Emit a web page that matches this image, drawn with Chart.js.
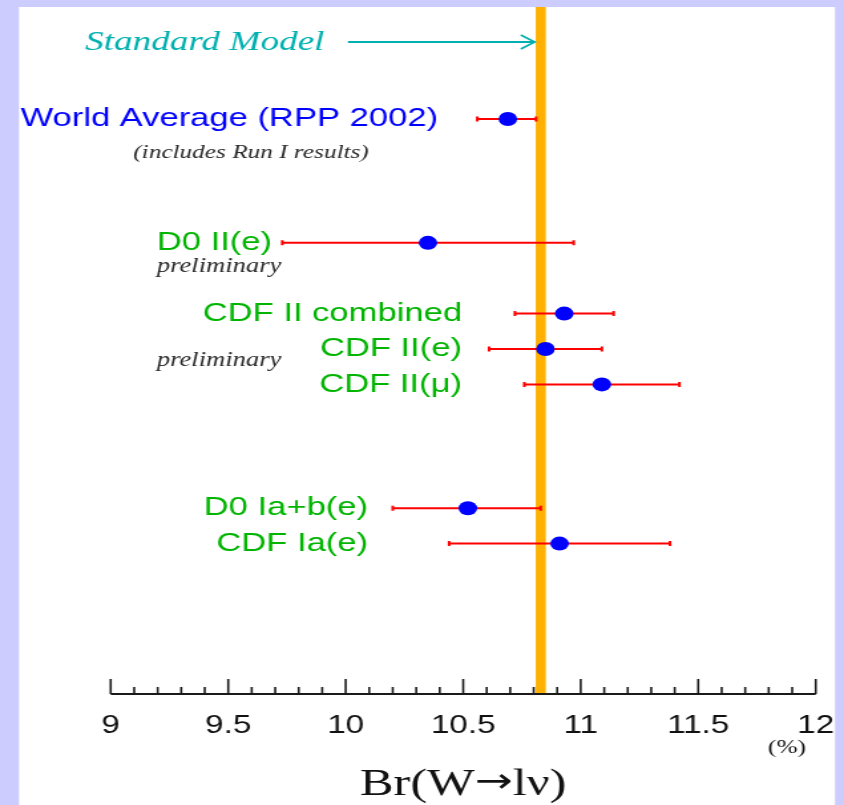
<!DOCTYPE html>
<html><head><meta charset="utf-8">
<script src="https://cdn.jsdelivr.net/npm/chart.js@4.4.1/dist/chart.umd.min.js"></script>
<style>
html,body{margin:0;padding:0;background:#ccccff;overflow:hidden;width:844px;height:805px;}
#wrap{position:absolute;left:0;top:0;width:635px;height:805px;transform:scaleX(1.329134);transform-origin:0 0;}
canvas{display:block;}
</style></head><body>
<div id="wrap"><canvas id="c" width="635" height="805"></canvas></div>
<script>
// ---- data ----
const categories = [
  '', '', '', '',
  'World Average (RPP 2002)',
  '', '', '', '', '', '',
  'D0 II(e)',
  '', '', '',
  'CDF II combined',
  '',
  'CDF II(e)',
  '',
  'CDF II(\u03bc)',
  '', '', '', '', '', '',
  'D0 Ia+b(e)',
  '',
  'CDF Ia(e)',
  '', '', '', '', '', '', '', ''
];
const measurements = ['World Average (RPP 2002)', 'D0 II(e)', 'CDF II combined', 'CDF II(e)', 'CDF II(\u03bc)', 'D0 Ia+b(e)', 'CDF Ia(e)'];
const centralValues = [10.69, 10.35, 10.93, 10.85, 11.09, 10.52, 10.91];
const lowerEdges    = [10.56,  9.73, 10.72, 10.61, 10.76, 10.20, 10.44];
const upperEdges    = [10.81, 10.97, 11.14, 11.09, 11.42, 10.83, 11.38];
const standardModel = 10.83;
const xTickLabels = ['9', '9.5', '10', '10.5', '11', '11.5', '12'];

// ---- layout / style helpers ----
const S = 844 / 635;          // horizontal stretch of the original picture
const X = p => p / S;         // page x -> canvas x
const SANS = '"Liberation Sans", Arial, sans-serif';
const SERIF = '"Liberation Serif", "Times New Roman", serif';
const GREEN = '#00b400';

const rowLabelStyle = [
  {color: '#0000ff', right: 438},
  {color: GREEN, right: 272},
  {color: GREEN, right: 462},
  {color: GREEN, right: 462},
  {color: GREEN, right: 462},
  {color: GREEN, right: 368},
  {color: GREEN, right: 368}
];
const notes = [
  {text: '(includes Run I results)', row: 0, dy: 34, cx: 251, font: 'italic 19px ' + SERIF},
  {text: 'preliminary', row: 1, dy: 24, cx: 219, font: 'italic 20px ' + SERIF},
  {text: 'preliminary', row: 3, dy: 12, cx: 219, font: 'italic 20px ' + SERIF}
];

const deco = {
  id: 'deco',
  beforeDraw(chart) {
    const ctx = chart.ctx;
    ctx.save();
    ctx.fillStyle = '#ccccff';
    ctx.fillRect(0, 0, chart.width, chart.height);
    ctx.fillStyle = '#ffffff';
    ctx.fillRect(X(19), 7, X(835) - X(19), 805 - 7);
    ctx.restore();
  },
  beforeDatasetsDraw(chart) {
    const {ctx, chartArea, scales: {x}} = chart;
    const cx = x.getPixelForValue(standardModel);
    const hw = X(5);
    ctx.save();
    ctx.fillStyle = '#ffb000';
    ctx.fillRect(cx - hw, 7, 2 * hw, chartArea.bottom - 7);
    ctx.restore();
  },
  afterDatasetsDraw(chart) {
    const {ctx, chartArea, scales: {x, y}} = chart;
    const base = chartArea.bottom;
    ctx.save();
    // axis line + ticks
    ctx.strokeStyle = '#1a1a1a';
    ctx.lineWidth = 2;
    ctx.beginPath();
    ctx.moveTo(x.getPixelForValue(9), base);
    ctx.lineTo(x.getPixelForValue(12), base);
    ctx.stroke();
    ctx.lineWidth = 1.6;
    for (let i = 0; i <= 30; i++) {
      const v = 9 + i / 10;
      const px = x.getPixelForValue(v);
      const h = (i % 5 === 0) ? 15 : 7;
      ctx.beginPath();
      ctx.moveTo(px, base);
      ctx.lineTo(px, base - h);
      ctx.stroke();
    }
    // tick labels
    ctx.fillStyle = '#111';
    ctx.font = '25px ' + SANS;
    ctx.textAlign = 'center';
    ctx.textBaseline = 'alphabetic';
    xTickLabels.forEach(t => {
      ctx.fillText(t, x.getPixelForValue(parseFloat(t)), 733);
    });
    // unit
    ctx.font = '19px ' + SERIF;
    ctx.textBaseline = 'middle';
    ctx.fillText('(%)', X(787), 748);
    // axis title: Br(W→lν), arrow set in a wider font
    const titleFont = '38px ' + SERIF;
    const arrowFont = '34px "DejaVu Sans", sans-serif';
    const parts = [['Br(W', titleFont], ['\u2192', arrowFont], ['l\u03bd)', titleFont]];
    let total = 0;
    parts.forEach(p => { ctx.font = p[1]; total += ctx.measureText(p[0]).width; });
    let tx = X(463) - total / 2;
    ctx.textAlign = 'left';
    ctx.textBaseline = 'alphabetic';
    parts.forEach(p => {
      ctx.font = p[1];
      ctx.fillText(p[0], tx, p[1] === arrowFont ? 792 : 795);
      tx += ctx.measureText(p[0]).width;
    });

    // row labels
    ctx.font = '26px ' + SANS;
    ctx.textAlign = 'right';
    ctx.textBaseline = 'middle';
    measurements.forEach((m, i) => {
      ctx.fillStyle = rowLabelStyle[i].color;
      ctx.fillText(m, X(rowLabelStyle[i].right), y.getPixelForValue(m));
    });
    // notes
    ctx.textAlign = 'center';
    ctx.fillStyle = '#2a2a2a';
    notes.forEach(n => {
      ctx.font = n.font;
      ctx.fillText(n.text, X(n.cx), y.getPixelForValue(measurements[n.row]) + n.dy);
    });

    // Standard Model annotation
    const smx = x.getPixelForValue(standardModel) - X(6);
    ctx.fillStyle = '#00b0b0';
    ctx.strokeStyle = '#00b0b0';
    ctx.font = 'italic 28px ' + SERIF;
    ctx.textAlign = 'left';
    ctx.fillText('Standard Model', X(85), 43);
    ctx.lineWidth = 2;
    ctx.beginPath();
    ctx.moveTo(X(348), 42);
    ctx.lineTo(smx, 42);
    ctx.stroke();
    ctx.lineWidth = 1.6;
    ctx.beginPath();
    ctx.moveTo(smx - X(14), 35);
    ctx.lineTo(smx, 42);
    ctx.lineTo(smx - X(14), 49);
    ctx.stroke();
    ctx.restore();
  }
};

const errorSets = measurements.map((m, i) => ({
  type: 'line',
  data: [{x: lowerEdges[i], y: m}, {x: upperEdges[i], y: m}],
  borderColor: '#ff0000',
  borderWidth: 2,
  showLine: true,
  fill: false,
  pointStyle: 'line',
  pointRotation: 90,
  pointRadius: 2.5,
  pointBorderColor: '#ff0000',
  pointBorderWidth: 2,
  order: 2
}));

new Chart(document.getElementById('c'), {
  type: 'scatter',
  data: {
    datasets: [
      {
        data: measurements.map((m, i) => ({x: centralValues[i], y: m})),
        pointRadius: 7,
        pointBackgroundColor: '#0000ff',
        pointBorderWidth: 0,
        order: 0
      },
      ...errorSets
    ]
  },
  options: {
    responsive: false,
    devicePixelRatio: 1,
    animation: false,
    events: [],
    layout: {padding: {left: X(110.7), right: 635 - X(815.7), top: 39.4, bottom: 111}},
    plugins: {legend: {display: false}, tooltip: {enabled: false}},
    scales: {
      x: {type: 'linear', min: 9, max: 12, display: false},
      y: {type: 'category', labels: categories, offset: true, min: 0, max: categories.length - 1, display: false}
    }
  },
  plugins: [deco]
});
</script>
</body></html>
